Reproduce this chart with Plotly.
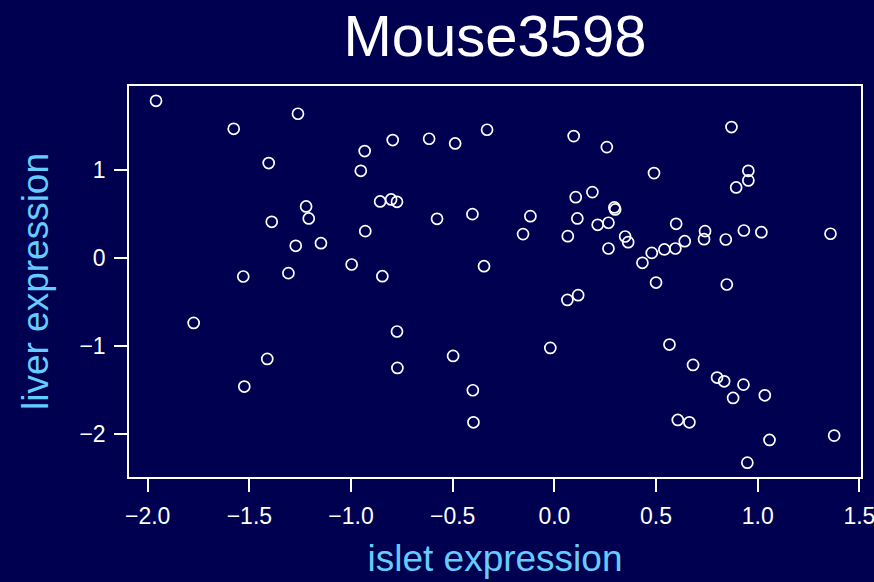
import plotly.graph_objects as go

# islet expression (x) and liver expression (y) for each mouse sample
islet = [-1.959, -1.261, -1.577, -1.405, -0.933, -0.952, -1.221, -1.208, -1.390, -0.930,
         -1.272, -1.148, -0.997, -1.308, -1.530, -0.795, -0.616, -0.488, -0.331, 0.095,
         0.258, -0.857, -0.803, -0.774, -0.577, -0.403, -0.118, -0.154, 0.066, 0.105,
         0.187, 0.113, 0.213, 0.266, 0.266, -0.846, -0.346, 0.871, 0.490, 0.954,
         0.954, 0.894, 0.295, 0.299, 0.599, 0.348, 0.363, 0.741, 0.736, 0.641,
         0.595, 0.541, 0.479, 0.433, 0.843, 0.932, 1.018, 1.358, 0.500, 0.848,
         0.566, 0.682, 0.800, 0.835, 0.930, 0.879, 1.035, 0.607, 0.664, 1.058,
         1.376, 0.949, 0.064, 0.117, -0.774, -0.772, -0.498, -0.020, -0.401, -0.398,
         -1.774, -1.412, -1.525]
liver = [1.787, 1.640, 1.469, 1.080, 1.216, 0.992, 0.587, 0.451, 0.413, 0.307,
         0.140, 0.170, -0.072, -0.170, -0.208, 1.341, 1.356, 1.303, 1.458, 1.386,
         1.261, 0.644, 0.667, 0.640, 0.447, 0.500, 0.477, 0.273, 0.250, 0.693,
         0.750, 0.451, 0.379, 0.402, 0.110, -0.205, -0.091, 1.489, 0.966, 0.992,
         0.883, 0.803, 0.576, 0.553, 0.390, 0.246, 0.182, 0.307, 0.216, 0.193,
         0.110, 0.099, 0.060, -0.053, 0.212, 0.314, 0.295, 0.277, -0.277, -0.299,
         -0.981, -1.212, -1.356, -1.398, -1.436, -1.587, -1.557, -1.837, -1.864, -2.064,
         -2.015, -2.322, -0.474, -0.420, -0.833, -1.246, -1.110, -1.019, -1.500, -1.864,
         -0.735, -1.144, -1.458]

x_tick_vals = [-2.0, -1.5, -1.0, -0.5, 0.0, 0.5, 1.0, 1.5]
x_tick_text = ["\u22122.0", "\u22121.5", "\u22121.0", "\u22120.5", "0.0", "0.5", "1.0", "1.5"]
y_tick_vals = [-2, -1, 0, 1]
y_tick_text = ["\u22122", "\u22121", "0", "1"]

title_text = "Mouse3598"
x_title = "islet expression"
y_title = "liver expression"

BG = "#000050"
LABEL = "#66ccff"
FONT = "Liberation Sans, Arial, sans-serif"

fig = go.Figure()
fig.add_trace(go.Scatter(
    x=islet, y=liver, mode="markers",
    marker=dict(symbol="circle-open", size=11, color="white", line=dict(width=1.7, color="white")),
    hoverinfo="x+y", showlegend=False,
))

axis_common = dict(
    showgrid=False, zeroline=False,
    showline=True, linecolor="white", linewidth=1.5, mirror=True,
    ticks="outside", ticklen=13, tickwidth=1.5, tickcolor="white",
    tickfont=dict(family=FONT, size=23, color="white"),
    ticklabeloverflow="allow",
    automargin=False,
)

fig.update_layout(
    width=874, height=582,
    paper_bgcolor=BG, plot_bgcolor=BG,
    margin=dict(l=129, r=13, t=86, b=105, autoexpand=False),
    title=dict(text=title_text, x=0.5, xref="paper", y=1 - 36 / 582, yref="container",
               xanchor="center", yanchor="middle",
               font=dict(family=FONT, size=58, color="white")),
    xaxis=dict(range=[-2.092, 1.508], tickmode="array", tickvals=x_tick_vals, ticktext=x_tick_text,
               ticklabelstandoff=5,
               title=dict(text=x_title, font=dict(family=FONT, size=37, color=LABEL), standoff=17),
               **axis_common),
    yaxis=dict(range=[-2.485, 1.955], tickmode="array", tickvals=y_tick_vals, ticktext=y_tick_text,
               ticklabelstandoff=4,
               title=dict(text=y_title, font=dict(family=FONT, size=37, color=LABEL), standoff=19),
               **axis_common),
)

fig.write_html(
    "out.html",
    config={"displayModeBar": False},
    post_script="document.body.style.margin='0';document.body.style.overflow='hidden';"
                "document.body.style.background='#000050';",
)
